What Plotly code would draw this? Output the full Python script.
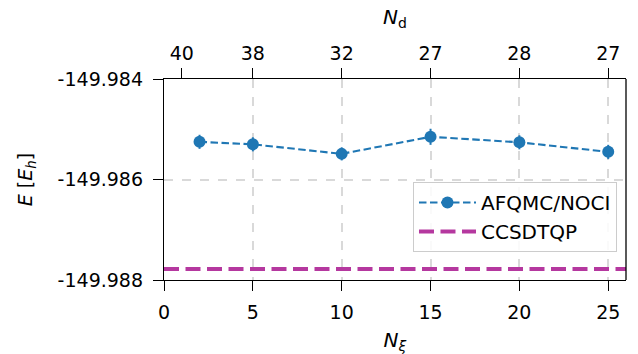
import plotly.graph_objects as go

# Data
n_xi = [2, 5, 10, 15, 20, 25]
energy = [-149.98525, -149.98530, -149.98549, -149.98515, -149.98526, -149.98545]
energy_err = [0.00014, 0.00014, 0.00013, 0.00016, 0.00014, 0.00014]
ccsdtqp = -149.98778

top_tick_pos = [1, 5, 10, 15, 20, 25]
top_tick_labels = ["40", "38", "32", "27", "28", "27"]
bottom_ticks = [0, 5, 10, 15, 20, 25]
y_ticks = [-149.988, -149.986, -149.984]

x_range = [0, 26]
y_range = [-149.988, -149.984]

FONT = "DejaVu Sans"
BLUE = "#1f77b4"
MAGENTA = "#b5389f"

fig = go.Figure()

fig.add_trace(go.Scatter(
    x=x_range, y=[ccsdtqp, ccsdtqp], mode="lines", name="CCSDTQP",
    line=dict(color=MAGENTA, width=4, dash="15px,6.5px"),
))
fig.add_trace(go.Scatter(
    x=n_xi, y=energy, mode="lines+markers", name="AFQMC/NOCI",
    line=dict(color=BLUE, width=2.1, dash="7.5px,3.5px"),
    marker=dict(color=BLUE, size=12),
    error_y=dict(type="data", array=energy_err, color=BLUE, thickness=2, width=0),
))
# invisible trace to carry the top axis
fig.add_trace(go.Scatter(x=top_tick_pos, y=[None]*len(top_tick_pos), xaxis="x2",
                         showlegend=False, hoverinfo="skip", mode="markers"))

axis_common = dict(showline=True, linecolor="black", linewidth=1.3,
                   ticks="outside", ticklen=10, tickwidth=1.3, tickcolor="black",
                   tickfont=dict(family=FONT, size=19, color="black"), zeroline=False)

fig.update_layout(
    width=638, height=354,
    margin=dict(l=164, r=12, t=79, b=74, autoexpand=False),
    paper_bgcolor="white", plot_bgcolor="white",
    font=dict(family=FONT, color="black"),
    xaxis=dict(range=x_range, tickvals=bottom_ticks, showgrid=True,
               gridcolor="#d9d9d9", gridwidth=1.5, griddash="dash",
               ticklabelstandoff=5,
               title=dict(text="<i>N</i><sub><i>ξ</i></sub>", font=dict(family=FONT, size=20), standoff=14),
               mirror=False, **axis_common),
    xaxis2=dict(range=x_range, overlaying="x", side="top", tickvals=top_tick_pos,
                ticktext=top_tick_labels, showgrid=False, ticklabelstandoff=0,
                **axis_common),
    yaxis=dict(range=y_range, tickvals=y_ticks, ticktext=[f"{v:.3f}" for v in y_ticks],
               showgrid=True, gridcolor="#d9d9d9", gridwidth=1.5, griddash="dash",
               ticklabelstandoff=6,
               title=dict(text="<i>E</i> [<i>E</i><sub><i>h</i></sub>]", font=dict(family=FONT, size=19), standoff=19),
               **axis_common),
    legend=dict(x=0.9805, y=0.4876, xanchor="right", yanchor="top", itemwidth=57,
                bgcolor="rgba(255,255,255,0.85)", bordercolor="#cccccc", borderwidth=1,
                font=dict(family=FONT, size=20, color="black"), traceorder="reversed"),
    showlegend=True,
    annotations=[dict(text="<i>N</i><sub>d</sub>", xref="paper", yref="paper",
                      x=0.5, y=1.3035, xanchor="center", yanchor="middle", showarrow=False,
                      font=dict(family=FONT, size=20, color="black"))],
)
# right spine
fig.add_shape(type="line", xref="paper", yref="paper", x0=1, x1=1, y0=0, y1=1,
              line=dict(color="black", width=1.3))

fig.write_html("out.html")
